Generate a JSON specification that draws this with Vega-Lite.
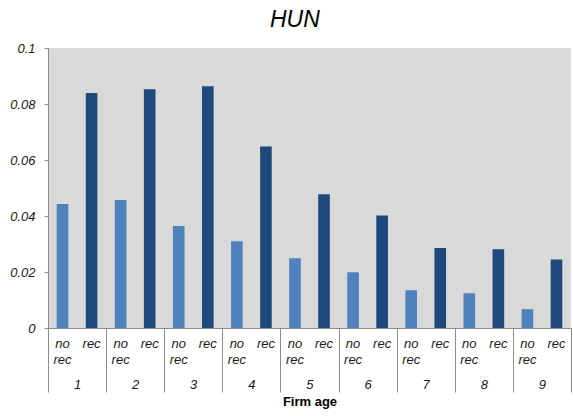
{
  "$schema": "https://vega.github.io/schema/vega-lite/v6.json",
  "autosize": {"type": "none"},
  "width": 523,
  "height": 280,
  "padding": {"left": 48, "top": 48, "right": 2, "bottom": 88},
  "background": "white",
  "title": {
    "text": "HUN",
    "font": "Liberation Sans",
    "fontSize": 23,
    "fontStyle": "italic",
    "fontWeight": "normal",
    "color": "#000000",
    "anchor": "middle",
    "frame": "bounds",
    "offset": 10,
    "dx": -10
  },
  "config": {
    "view": {"fill": "#D9D9D9", "stroke": null},
    "axis": {
      "labelFont": "Liberation Sans",
      "labelFontStyle": "italic",
      "labelFontSize": 13,
      "labelColor": "#1a1a1a",
      "titleFont": "Liberation Sans",
      "domainColor": "#8c8c8c",
      "tickColor": "#8c8c8c",
      "grid": false
    }
  },
  "data": {
    "values": [
      {"age": 1, "rec": "no rec", "cat": "1 no rec", "value": 0.0443},
      {"age": 1, "rec": "rec", "cat": "1 rec", "value": 0.0839},
      {"age": 2, "rec": "no rec", "cat": "2 no rec", "value": 0.0457},
      {"age": 2, "rec": "rec", "cat": "2 rec", "value": 0.0853},
      {"age": 3, "rec": "no rec", "cat": "3 no rec", "value": 0.0364},
      {"age": 3, "rec": "rec", "cat": "3 rec", "value": 0.0863},
      {"age": 4, "rec": "no rec", "cat": "4 no rec", "value": 0.0310},
      {"age": 4, "rec": "rec", "cat": "4 rec", "value": 0.0648},
      {"age": 5, "rec": "no rec", "cat": "5 no rec", "value": 0.0249},
      {"age": 5, "rec": "rec", "cat": "5 rec", "value": 0.0478},
      {"age": 6, "rec": "no rec", "cat": "6 no rec", "value": 0.0199},
      {"age": 6, "rec": "rec", "cat": "6 rec", "value": 0.0402},
      {"age": 7, "rec": "no rec", "cat": "7 no rec", "value": 0.0135},
      {"age": 7, "rec": "rec", "cat": "7 rec", "value": 0.0286},
      {"age": 8, "rec": "no rec", "cat": "8 no rec", "value": 0.0124},
      {"age": 8, "rec": "rec", "cat": "8 rec", "value": 0.0281},
      {"age": 9, "rec": "no rec", "cat": "9 no rec", "value": 0.0067},
      {"age": 9, "rec": "rec", "cat": "9 rec", "value": 0.0245}
    ]
  },
  "layer": [
    {
      "mark": {"type": "bar"},
      "encoding": {
        "x": {
          "field": "cat",
          "type": "nominal",
          "sort": null,
          "scale": {"paddingInner": 0.6, "paddingOuter": 0.3},
          "axis": {
            "orient": "bottom",
            "title": null,
            "ticks": false,
            "labelAngle": 0,
            "labelPadding": 9,
            "labelLineHeight": 16,
            "labelBaseline": "top",
            "labelOverlap": false,
            "labelExpr": "indexof(datum.value, 'no rec') >= 0 ? ['no', 'rec'] : 'rec'"
          }
        },
        "y": {
          "field": "value",
          "type": "quantitative",
          "scale": {"domain": [0, 0.1], "nice": false},
          "axis": {
            "title": null,
            "values": [0, 0.02, 0.04, 0.06, 0.08, 0.1],
            "labelExpr": "format(datum.value, '~g')",
            "tickSize": 4,
            "labelPadding": 9
          }
        },
        "color": {
          "field": "rec",
          "type": "nominal",
          "scale": {"domain": ["no rec", "rec"], "range": ["#4F81BD", "#1F497D"]},
          "legend": null
        }
      }
    },
    {
      "mark": {"type": "point", "opacity": 0},
      "encoding": {
        "x": {
          "field": "age",
          "type": "quantitative",
          "scale": {"domain": [0.5, 9.5], "nice": false, "zero": false},
          "axis": {
            "orient": "bottom",
            "title": "Firm age",
            "titleFontSize": 13,
            "titleFontWeight": "bold",
            "titleColor": "#000000",
            "titlePadding": 3,
            "domain": false,
            "values": [0.5, 1.5, 2.5, 3.5, 4.5, 5.5, 6.5, 7.5, 8.5, 9.5],
            "tickSize": 64,
            "labelOffset": 29,
            "labelPadding": -14,
            "labelFlush": false,
            "labelOverlap": false,
            "labelBound": false,
            "labelExpr": "datum.value < 9 ? format(datum.value + 0.5, 'd') : ''"
          }
        },
        "y": {"field": "value", "type": "quantitative"}
      }
    }
  ],
  "resolve": {"scale": {"x": "independent"}, "axis": {"x": "independent"}}
}
